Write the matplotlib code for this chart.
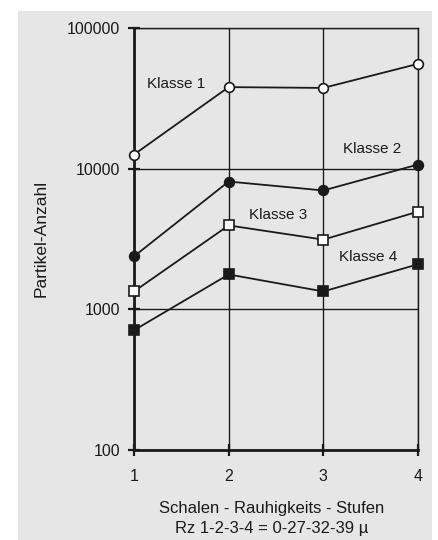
import matplotlib
matplotlib.use("Agg")
import matplotlib.pyplot as plt
from matplotlib.patches import Rectangle
from matplotlib.ticker import FixedLocator, NullLocator, FixedFormatter

plt.rcParams['font.family'] = ['Liberation Sans', 'DejaVu Sans']

# data
stufen = [1, 2, 3, 4]
klasse_1 = [12600, 38000, 37500, 55600]
klasse_2 = [2380, 8100, 7000, 10700]
klasse_3 = [1340, 3950, 3130, 4950]
klasse_4 = [710, 1770, 1340, 2090]
y_ticks = [100, 1000, 10000, 100000]
y_tick_labels = ["100", "1000", "10000", "100000"]

ink = "#1a1a1a"
paper = "#e6e6e6"

fig = plt.figure(figsize=(4.39, 5.40), dpi=100)
fig.patches.append(Rectangle((18 / 439, 0), 414 / 439, 1 - 11 / 540,
                             transform=fig.transFigure, facecolor=paper,
                             edgecolor="none", zorder=-10))

ax = fig.add_axes([134 / 439, 1 - 450 / 540, 284 / 439, 422 / 540])
ax.set_facecolor("none")
ax.set_yscale("log")
ax.set_ylim(100, 100000)
ax.set_xlim(1, 4)

ax.yaxis.set_major_locator(FixedLocator(y_ticks))
ax.yaxis.set_major_formatter(FixedFormatter(y_tick_labels))
ax.yaxis.set_minor_locator(NullLocator())
ax.set_xticks(stufen)
ax.set_xticklabels([str(s) for s in stufen])

ax.grid(True, color=ink, linewidth=1.0)
ax.set_axisbelow(True)
for side, sp in ax.spines.items():
    sp.set_color(ink)
    sp.set_linewidth(1.0)
ax.spines["left"].set_linewidth(2.0)
ax.spines["bottom"].set_linewidth(2.0)
ax.tick_params(axis="both", direction="inout", length=8, width=1.6,
               color=ink, labelcolor=ink, labelsize=11.5)
ax.tick_params(axis="x", pad=10)
ax.tick_params(axis="y", pad=6)

line_kw = dict(color=ink, linewidth=1.3, markersize=7, markeredgewidth=1.2,
               markeredgecolor=ink, clip_on=False, zorder=3)
ax.plot(stufen, klasse_1, marker="o", markerfacecolor="white", **line_kw)
ax.plot(stufen, klasse_2, marker="o", markerfacecolor=ink, **line_kw)
ax.plot(stufen, klasse_3, marker="s", markerfacecolor="white", **line_kw)
ax.plot(stufen, klasse_4, marker="s", markerfacecolor=ink, **line_kw)

label_kw = dict(fontsize=11, color=ink, ha="center", va="center")
ax.text(1.45, 40000, "Klasse 1", **label_kw)
ax.text(3.52, 13900, "Klasse 2", **label_kw)
ax.text(2.52, 4720, "Klasse 3", **label_kw)
ax.text(3.47, 2340, "Klasse 4", **label_kw)

fig.text(41 / 439, 1 - 238 / 540, "Partikel-Anzahl", rotation=90,
         ha="center", va="center", fontsize=12.5, color=ink)
fig.text(272 / 439, 1 - 508 / 540, "Schalen - Rauhigkeits - Stufen",
         ha="center", va="center", fontsize=12, color=ink)
fig.text(272 / 439, 1 - 528 / 540, "Rz 1-2-3-4 = 0-27-32-39 \u00b5",
         ha="center", va="center", fontsize=12, color=ink)

fig.savefig("out.png", dpi=100)
